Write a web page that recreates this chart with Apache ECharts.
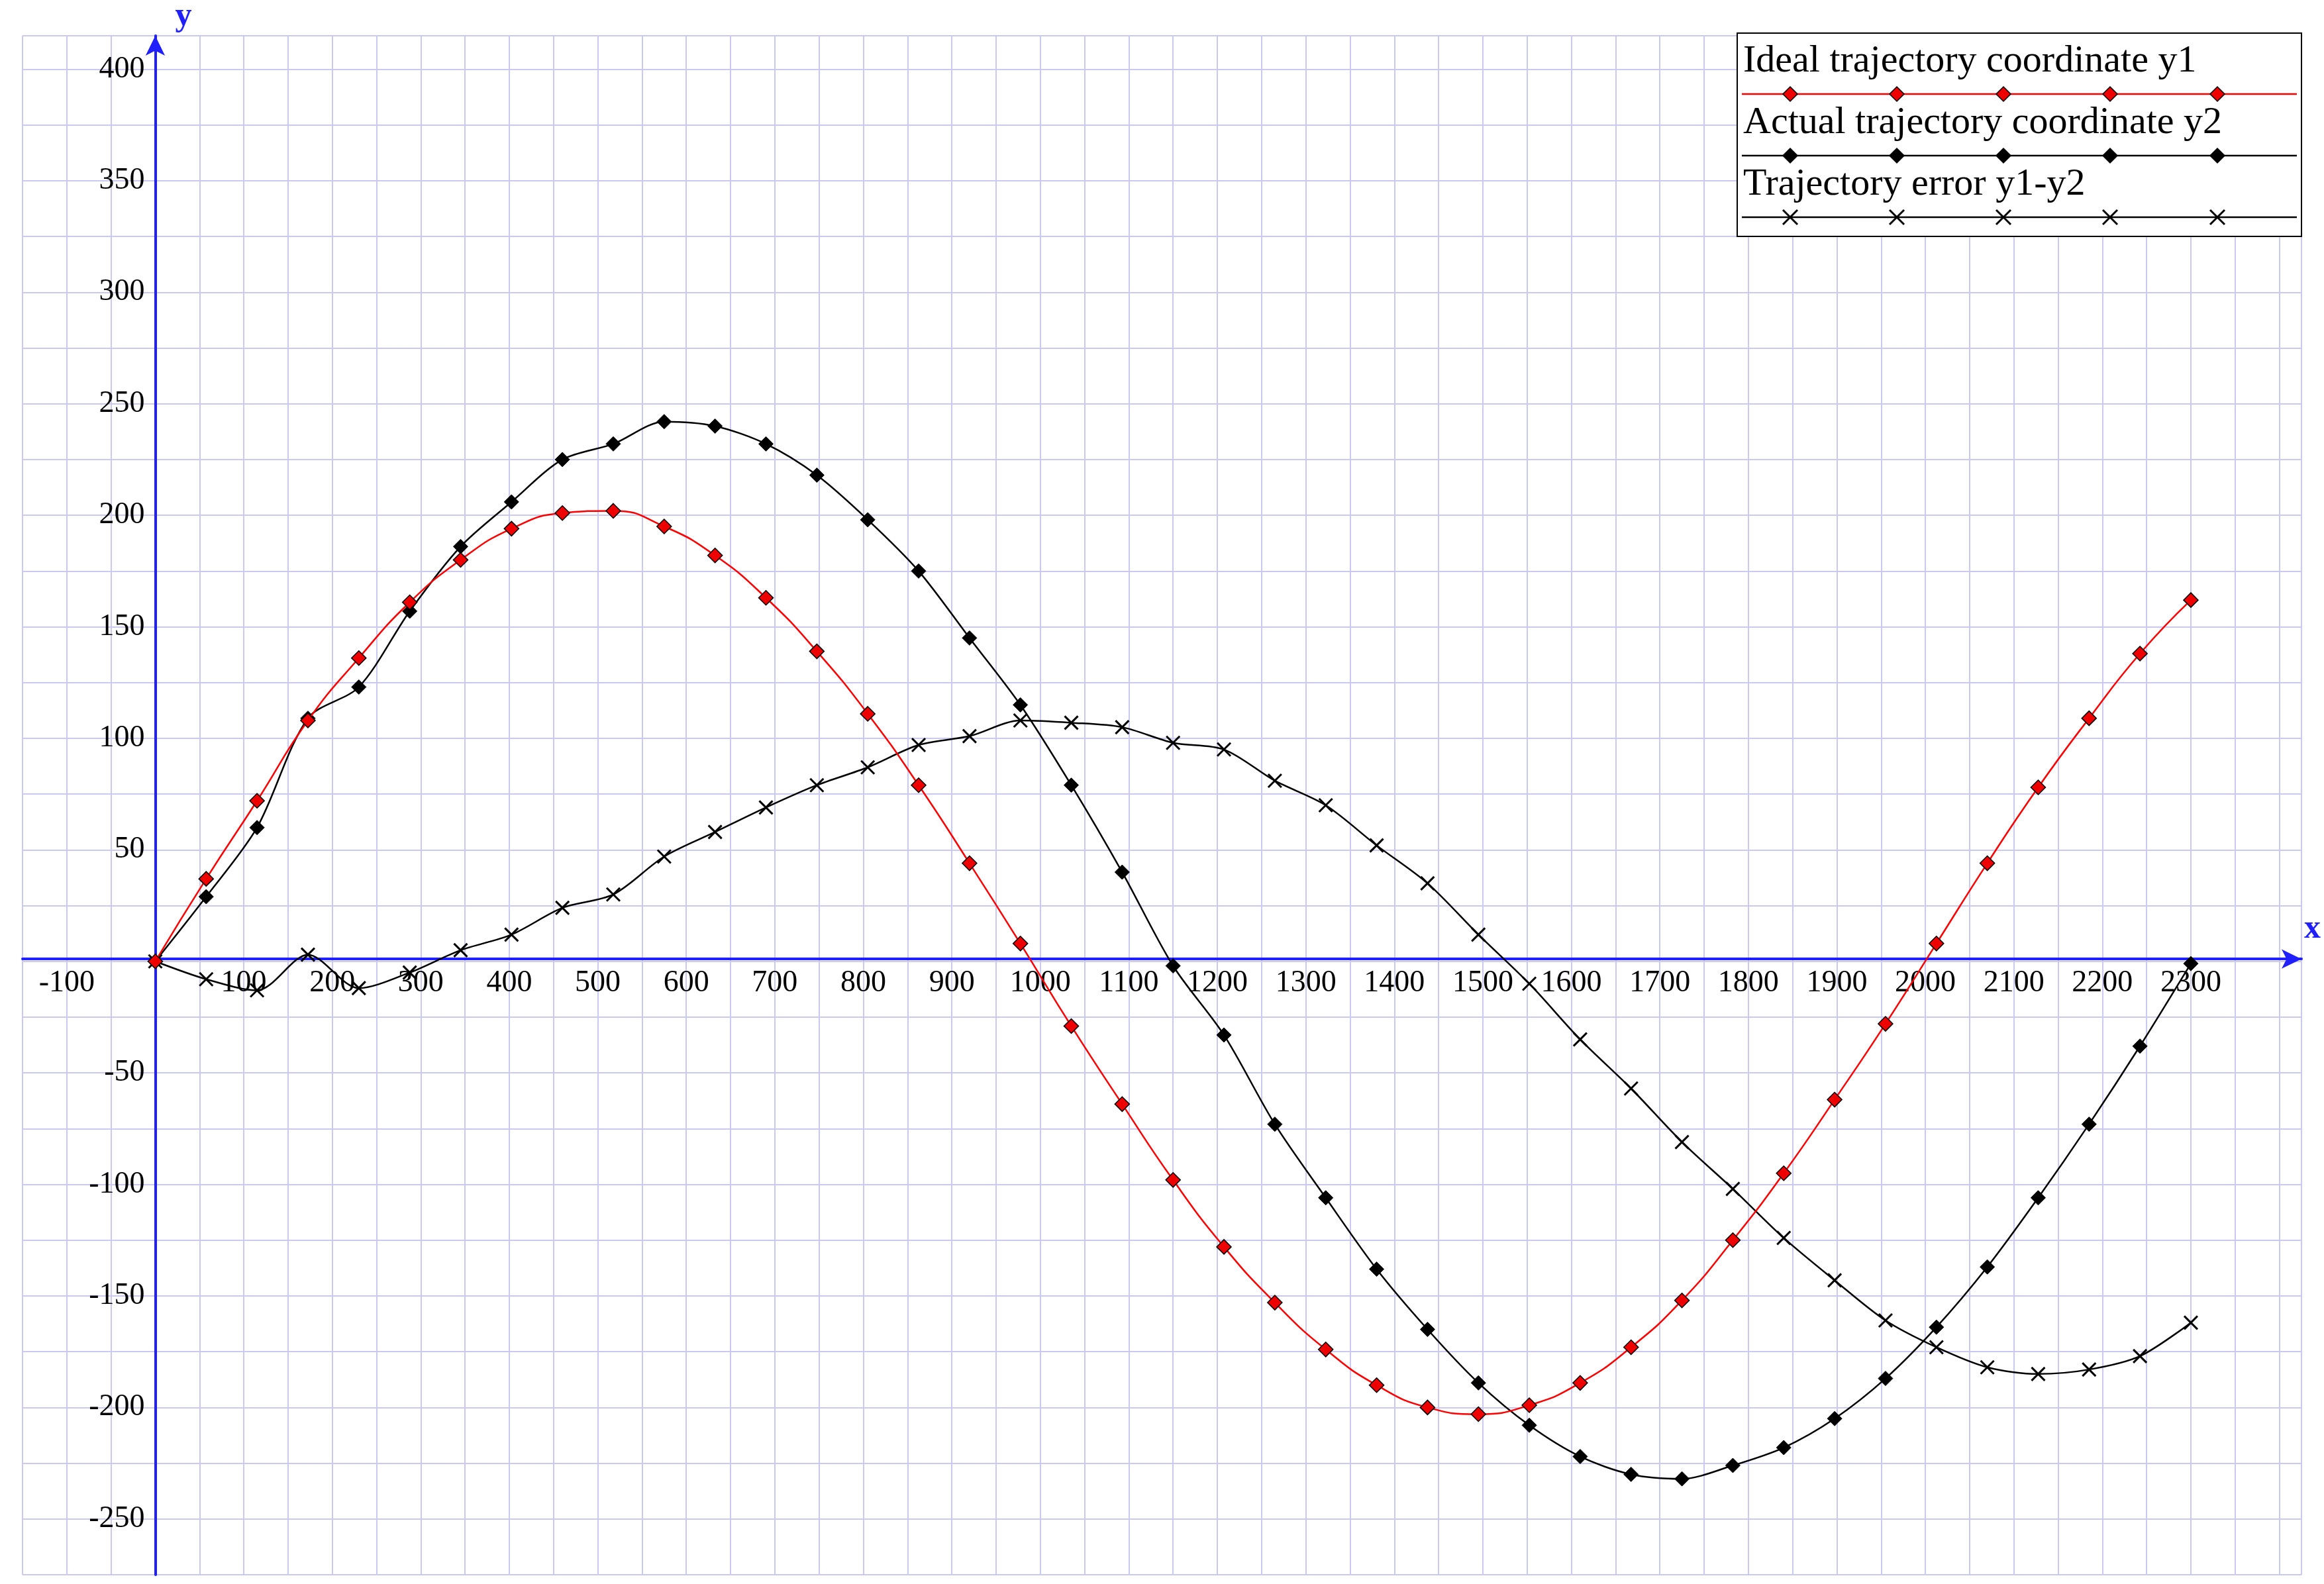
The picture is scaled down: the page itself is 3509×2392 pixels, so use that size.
<!DOCTYPE html>
<html>
<head>
<meta charset="utf-8">
<script src="https://cdn.jsdelivr.net/npm/echarts@6/dist/echarts.min.js"></script>
<style>html,body{margin:0;padding:0;background:#fff}#main{width:3509px;height:2392px}</style>
</head>
<body>
<div id="main"></div>
<script>
// x positions of the samples (41 points, 0..2300)
var xs = [0,57.5,115,172.5,230,287.5,345,402.5,460,517.5,575,632.5,690,747.5,805,862.5,920,977.5,1035,1092.5,
          1150,1207.5,1265,1322.5,1380,1437.5,1495,1552.5,1610,1667.5,1725,1782.5,1840,1897.5,1955,2012.5,2070,2127.5,2185,2242.5,2300];
// ideal trajectory y1
var y1 = [0,37,72,108,136,161,180,194,201,202,195,182,163,139,111,79,44,8,-29,-64,
          -98,-128,-153,-174,-190,-200,-203,-199,-189,-173,-152,-125,-95,-62,-28,8,44,78,109,138,162];
// actual trajectory y2
var y2 = [0,29,60,109,123,157,186,206,225,232,242,240,232,218,198,175,145,115,79,40,
          -2,-33,-73,-106,-138,-165,-189,-208,-222,-230,-232,-226,-218,-205,-187,-164,-137,-106,-73,-38,-1];
// trajectory error y1-y2
var err = [0,-8,-13,3,-12,-5,5,12,24,30,47,58,69,79,87,97,101,108,107,105,
           98,95,81,70,52,35,12,-10,-35,-57,-81,-102,-124,-143,-161,-173,-182,-185,-183,-177,-162];
var legendNames = ['Ideal trajectory coordinate y1','Actual trajectory coordinate y2','Trajectory error y1-y2'];

function pairs(ys) {
    var d = [];
    for (var i = 0; i < xs.length; i++) d.push([xs[i], ys[i]]);
    return d;
}

var FONT = 'Liberation Serif';
var CROSS = 'path://M0,0L10,10M10,0L0,10';
var gridColor = '#c9c9f2';
var blue = '#1f1fff';

// plot area and ranges
var W = 3509, H = 2392;
var G = {left: 34, right: 34, top: 45, bottom: 14};
var XMIN = -150, XMAX = 2425, YMIN = -275, YMAX = 415;
// offsets that move the axes onto the origin (labels follow the axes)
var plotW = W - G.left - G.right, plotH = H - G.top - G.bottom;
var xAxisOffset = -(plotH * (0 - YMIN) / (YMAX - YMIN));
var yAxisOffset = -(plotW * (0 - XMIN) / (XMAX - XMIN));

var chart = echarts.init(document.getElementById('main'));

// legend box drawn by hand: text on top, a line with five markers below
var legendG = [{type:'rect', shape:{x:2623,y:50,width:852,height:307}, style:{fill:'#fff',stroke:'#000',lineWidth:2}, z:100}];
var rowsY = [102,195,288];
var lineCol = ['#ff0000','#000','#000'];
var mkX = [2703,2864,3025,3186,3348];
for (var r = 0; r < 3; r++) {
    legendG.push({type:'text', left:2632, top:rowsY[r]-38, z:101,
        style:{text:legendNames[r], font:'58px "' + FONT + '"', fill:'#000'}});
    var ly = rowsY[r] + 40;
    legendG.push({type:'line', shape:{x1:2630,y1:ly,x2:3468,y2:ly}, style:{stroke:lineCol[r],lineWidth:2.5}, z:101});
    for (var k = 0; k < 5; k++) {
        if (r < 2) {
            legendG.push({type:'polygon', z:102, shape:{points:[[mkX[k],ly-11],[mkX[k]+11,ly],[mkX[k],ly+11],[mkX[k]-11,ly]]},
                style:{fill:r === 0 ? '#ee0000' : '#000', stroke:'#000', lineWidth:1.5}});
        } else {
            legendG.push({type:'polyline', z:102, shape:{points:[[mkX[k]-11,ly-11],[mkX[k]+11,ly+11]]}, style:{stroke:'#000',lineWidth:3}});
            legendG.push({type:'polyline', z:102, shape:{points:[[mkX[k]+11,ly-11],[mkX[k]-11,ly+11]]}, style:{stroke:'#000',lineWidth:3}});
        }
    }
}

chart.setOption({
    backgroundColor: '#fff',
    animation: false,
    grid: G,
    xAxis: {
        type: 'value', min: XMIN, max: XMAX, interval: 50, offset: xAxisOffset,
        name: 'x', nameGap: 4, nameTextStyle: {fontFamily: FONT, fontSize: 50, fontWeight: 'bold', verticalAlign: 'bottom', padding:[0,0,20,0]},
        axisLine: {onZero: false, lineStyle: {color: blue, width: 4}, symbol: ['none', 'arrow'], symbolSize: [22, 30]},
        axisTick: {show: false},
        axisLabel: {fontFamily: FONT, fontSize: 46, color: '#000', margin: 14, showMinLabel: false, showMaxLabel: false,
            formatter: function (v) { return (v % 100 === 0 && v !== 0 && v <= 2300) ? String(v) : ''; }},
        splitLine: {show: true, lineStyle: {color: gridColor, width: 2}}
    },
    yAxis: {
        type: 'value', min: YMIN, max: YMAX, interval: 25, offset: yAxisOffset,
        name: 'y', nameGap: 4, nameLocation: 'end',
        nameTextStyle: {fontFamily: FONT, fontSize: 50, fontWeight: 'bold', align: 'left', padding:[0,0,0,30]},
        axisLine: {onZero: false, lineStyle: {color: blue, width: 4}, symbol: ['none', 'arrow'], symbolSize: [22, 30]},
        axisTick: {show: false},
        axisLabel: {fontFamily: FONT, fontSize: 46, color: '#000', margin: 16, showMinLabel: false, showMaxLabel: false,
            formatter: function (v) { return (v % 50 === 0 && v !== 0) ? String(v) : ''; }},
        splitLine: {show: true, lineStyle: {color: gridColor, width: 2}}
    },
    graphic: legendG,
    series: [
        {name: legendNames[0], type: 'line', smooth: true, data: pairs(y1), symbol: 'diamond', symbolSize: 22,
         lineStyle: {color: '#ff0000', width: 2.5}, itemStyle: {color: '#ee0000', borderColor: '#000', borderWidth: 1.5}, z: 5},
        {name: legendNames[1], type: 'line', smooth: 0.3, data: pairs(y2), symbol: 'diamond', symbolSize: 22,
         lineStyle: {color: '#000', width: 2.5}, itemStyle: {color: '#000', borderColor: '#000', borderWidth: 1}, z: 4},
        {name: legendNames[2], type: 'line', smooth: 0.3, data: pairs(err), symbol: CROSS, symbolSize: 20,
         lineStyle: {color: '#000', width: 2.5}, itemStyle: {color: 'rgba(0,0,0,0)', borderColor: '#000', borderWidth: 3}, z: 3}
    ]
});
</script>
</body>
</html>
